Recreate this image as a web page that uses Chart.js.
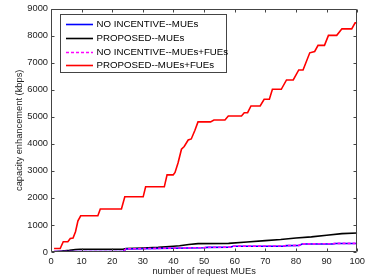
<!DOCTYPE html>
<html>
<head>
<meta charset="utf-8">
<script src="https://cdn.jsdelivr.net/npm/chart.js@4.4.0/dist/chart.umd.min.js"></script>
<style>
html,body{margin:0;padding:0;background:#fff;}
#wrap{width:369px;height:280px;}
</style>
</head>
<body>
<div id="wrap"><canvas id="c" width="369" height="280"></canvas></div>
<script>
// ---- data ----
const xTicks = [0,10,20,30,40,50,60,70,80,90,100];
const yTicks = [0,1000,2000,3000,4000,5000,6000,7000,8000,9000];

const seriesNames = ["NO INCENTIVE--MUEs","PROPOSED--MUEs","NO INCENTIVE--MUEs+FUEs","PROPOSED--MUEs+FUEs"];

const noIncMuesX = [1,23.5,24.5,40,50,51,58.5,59.5,76,77,81,82,92,93,100];
const noIncMuesY = [15,15,110,140,155,170,175,210,218,235,240,295,300,315,315];

const propMuesX = [1,3,6,8,9.5,23.5,24.5,30,35,40,42,45,48,58,64,70,75,80,85,90,95,100];
const propMuesY = [5,30,60,90,100,100,130,145,170,210,230,280,310,320,370,420,460,515,560,620,680,700];

const noIncAllX = [1,23.5,24.5,40,50,51,58.5,59.5,76,77,81,82,92,93,100];
const noIncAllY = [20,20,115,145,160,175,180,215,222,240,245,300,305,320,320];

const propAllX = [1,3,4,5.5,6.3,7.2,8,8.8,9.7,15.3,16.1,23,24.1,30.1,30.9,37,37.9,39.9,40.5,41.5,42.6,43.5,44.8,45.8,47,48,52.1,53.2,56.8,57.9,62.2,63.1,64.2,65.3,68.3,69.6,71.3,72.3,75.2,76.9,79.1,80.9,82.3,84.5,86.1,87.2,89.3,90.6,93.3,95,98.2,99.3,100];
const propAllY = [130,130,380,380,500,520,750,1150,1340,1340,1590,1590,2040,2040,2410,2410,2850,2850,2940,3300,3800,3900,4140,4180,4500,4810,4810,4880,4880,5030,5030,5150,5150,5400,5400,5645,5645,6015,6015,6360,6360,6730,6730,7365,7415,7640,7640,8010,8010,8250,8250,8470,8470];

function pts(xs, ys){ return xs.map((v,i)=>({x:v,y:ys[i]})); }

const FONT = "'Liberation Sans', Arial, sans-serif";
const TXT = '#222';

const frameTicks = {
  id:'frameTicks',
  afterDatasetsDraw(chart){
    const {ctx, chartArea:a, scales:{x,y}} = chart;
    const L=Math.round(a.left)+0.5, R=Math.round(a.right)-0.5, T=Math.round(a.top)+0.5, B=Math.round(a.bottom)-0.5;
    ctx.save();
    ctx.strokeStyle='#444'; ctx.lineWidth=1;
    ctx.beginPath();
    ctx.rect(L,T,R-L,B-T);
    xTicks.forEach(v=>{
      const p=Math.round(x.getPixelForValue(v))+0.5;
      ctx.moveTo(p,B); ctx.lineTo(p,B-3);
      ctx.moveTo(p,T); ctx.lineTo(p,T+3);
    });
    yTicks.forEach(v=>{
      const p=Math.round(y.getPixelForValue(v))+0.5;
      ctx.moveTo(L,p); ctx.lineTo(L+3,p);
      ctx.moveTo(R,p); ctx.lineTo(R-3,p);
    });
    ctx.stroke();
    ctx.restore();
  },
  afterDraw(chart){
    const ctx=chart.ctx;
    const bx=60.5, by=14.5, bw=166, bh=58;
    ctx.save();
    ctx.fillStyle='#fff'; ctx.fillRect(bx,by,bw,bh);
    ctx.strokeStyle='#444'; ctx.lineWidth=1; ctx.strokeRect(bx,by,bw,bh);
    const rows=[24,37.7,51.5,65];
    ctx.font='9.7px '+FONT;
    ctx.textBaseline='middle';
    chart.data.datasets.forEach((ds,i)=>{
      const yy=Math.round(rows[i])+0.5;
      ctx.save();
      ctx.strokeStyle=ds.borderColor; ctx.lineWidth=1.6;
      ctx.setLineDash(ds.borderDash||[]);
      ctx.beginPath(); ctx.moveTo(66,yy); ctx.lineTo(93,yy); ctx.stroke();
      ctx.restore();
      ctx.fillStyle='#000';
      ctx.fillText(ds.label,96.5,yy);
    });
    ctx.restore();
  }
};

new Chart(document.getElementById('c'),{
  type:'line',
  data:{
    datasets:[
      {label:seriesNames[0],data:pts(noIncMuesX,noIncMuesY),borderColor:'#0000ff',borderWidth:1.6,order:1},
      {label:seriesNames[1],data:pts(propMuesX,propMuesY),borderColor:'#000000',borderWidth:1.6,order:2},
      {label:seriesNames[2],data:pts(noIncAllX,noIncAllY),borderColor:'#ff00ff',borderWidth:1.6,borderDash:[3,2],order:0},
      {label:seriesNames[3],data:pts(propAllX,propAllY),borderColor:'#ff0000',borderWidth:1.6,order:3}
    ]
  },
  options:{
    responsive:false,
    animation:false,
    parsing:false,
    elements:{point:{radius:0},line:{tension:0,fill:false}},
    layout:{padding:{top:8,right:8,left:0,bottom:0}},
    plugins:{legend:{display:false},tooltip:{enabled:false}},
    scales:{
      x:{type:'linear',min:0,max:100,
        afterBuildTicks(s){ s.ticks=xTicks.map(v=>({value:v})); },
        afterFit(s){ s.height=28; },
        grid:{display:false,drawTicks:false},border:{display:false},
        ticks:{padding:4,color:TXT,font:{family:FONT,size:9.3},maxRotation:0,autoSkip:false,callback:v=>String(v)},
        title:{display:true,text:'number of request MUEs',color:TXT,font:{family:FONT,size:9.3},padding:{top:0,bottom:3}}
      },
      y:{type:'linear',min:0,max:9000,
        afterBuildTicks(s){ s.ticks=yTicks.map(v=>({value:v})); },
        afterFit(s){ s.width=51; },
        grid:{display:false,drawTicks:false},border:{display:false},
        ticks:{padding:3,color:TXT,font:{family:FONT,size:9.3},autoSkip:false,callback:v=>String(v)},
        title:{display:true,text:'capacity enhancement (kbps)',color:TXT,font:{family:FONT,size:9.3},padding:14}
      }
    }
  },
  plugins:[frameTicks]
});
</script>
</body>
</html>
